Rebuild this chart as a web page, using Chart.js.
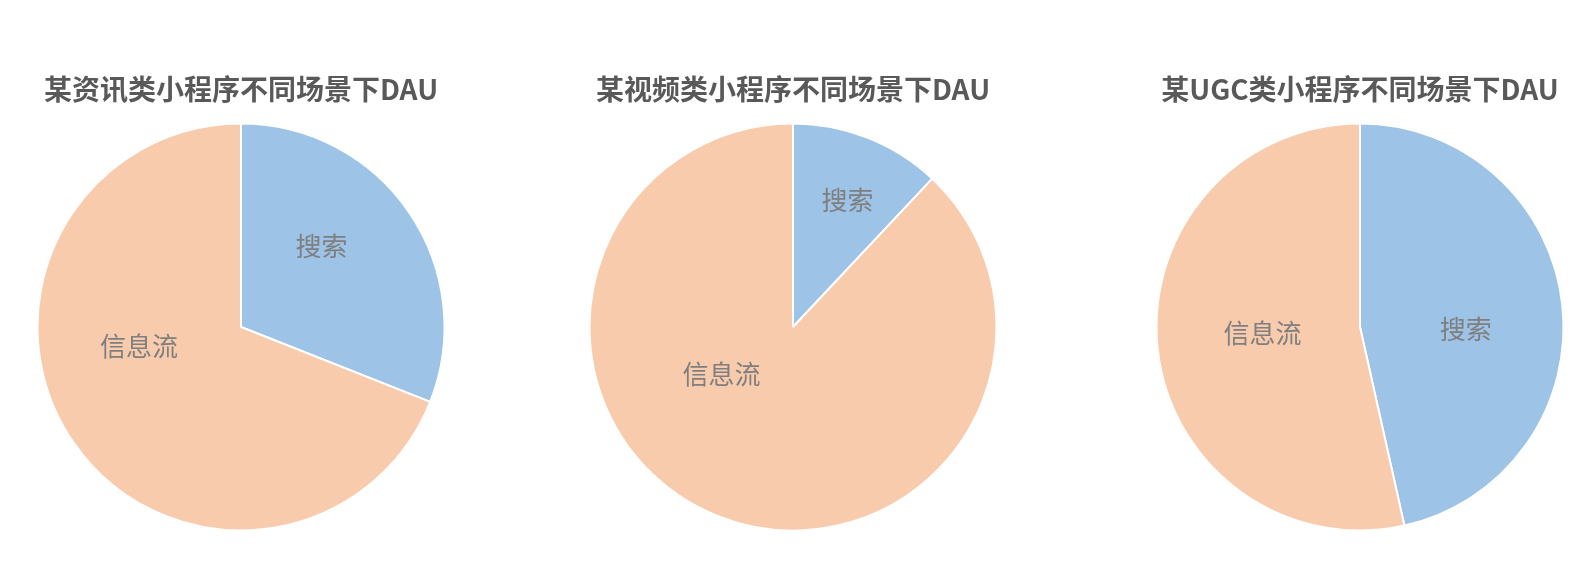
<!DOCTYPE html>
<html><head><meta charset="utf-8">
<script src="https://cdn.jsdelivr.net/npm/chart.js@4.4.0/dist/chart.umd.min.js"></script>
<style>
html,body{margin:0;padding:0;background:#fff;width:1593px;height:585px;overflow:hidden;position:relative;}
.w{position:absolute;width:440px;height:458.5px;top:72.7px;}
</style></head><body>
<div class="w" id="w1" style="left:20.5px"><canvas id="c1"></canvas></div>
<div class="w" id="w2" style="left:572.5px"><canvas id="c2"></canvas></div>
<div class="w" id="w3" style="left:1139.5px"><canvas id="c3"></canvas></div>
<script>
const categories = ['搜索', '信息流'];
const titles = ['某资讯类小程序不同场景下DAU', '某视频类小程序不同场景下DAU', '某UGC类小程序不同场景下DAU'];
const newsValues = [31, 69];
const videoValues = [12, 88];
const ugcValues = [46.5, 53.5];
const colors = ['#9dc3e6', '#f8cbad'];

const FONT = '"Noto Sans CJK SC", "Noto Sans", sans-serif';

// label placement (style): [degrees clockwise from 12 o'clock, fraction of radius]
const labelPlacement1 = [[45, 0.56], [259.5, 0.51]];
const labelPlacement2 = [[23.2, 0.68], [236.7, 0.42]];
const labelPlacement3 = [[91.3, 0.52], [266.3, 0.48]];

const labelPlugin = {
  id: 'inLabels',
  afterDatasetsDraw(chart, args, opts) {
    const ctx = chart.ctx;
    const meta = chart.getDatasetMeta(0);
    ctx.save();
    ctx.font = '26px ' + FONT;
    ctx.fillStyle = '#7f7f7f';
    ctx.textAlign = 'center';
    ctx.textBaseline = 'middle';
    meta.data.forEach((arc, i) => {
      const p = arc.getProps(['x','y','startAngle','endAngle','outerRadius'], true);
      let ang = (p.startAngle + p.endAngle) / 2, f = 0.52;
      if (opts.place && opts.place[i]) { ang = opts.place[i][0] * Math.PI / 180 - Math.PI / 2; f = opts.place[i][1]; }
      const r = p.outerRadius * f;
      ctx.fillText(chart.data.labels[i], p.x + Math.cos(ang) * r, p.y + Math.sin(ang) * r);
    });
    ctx.restore();
  }
};

function make(id, title, values, place) {
  new Chart(document.getElementById(id), {
    type: 'pie',
    data: {
      labels: categories,
      datasets: [{ data: values, backgroundColor: colors, borderColor: '#ffffff', borderWidth: 2, hoverOffset: 0 }]
    },
    options: {
      responsive: true,
      maintainAspectRatio: false,
      animation: false,
      layout: { padding: 0 },
      plugins: {
        legend: { display: false },
        tooltip: { enabled: false },
        inLabels: { place: place },
        title: {
          display: true, text: title, color: '#595959',
          font: { family: FONT, size: 28, weight: 'bold', lineHeight: 1.2 },
          padding: { top: 0, bottom: 15.9 }
        }
      }
    },
    plugins: [labelPlugin]
  });
}
make('c1', titles[0], newsValues, labelPlacement1);
make('c2', titles[1], videoValues, labelPlacement2);
make('c3', titles[2], ugcValues, labelPlacement3);
</script>
</body></html>
